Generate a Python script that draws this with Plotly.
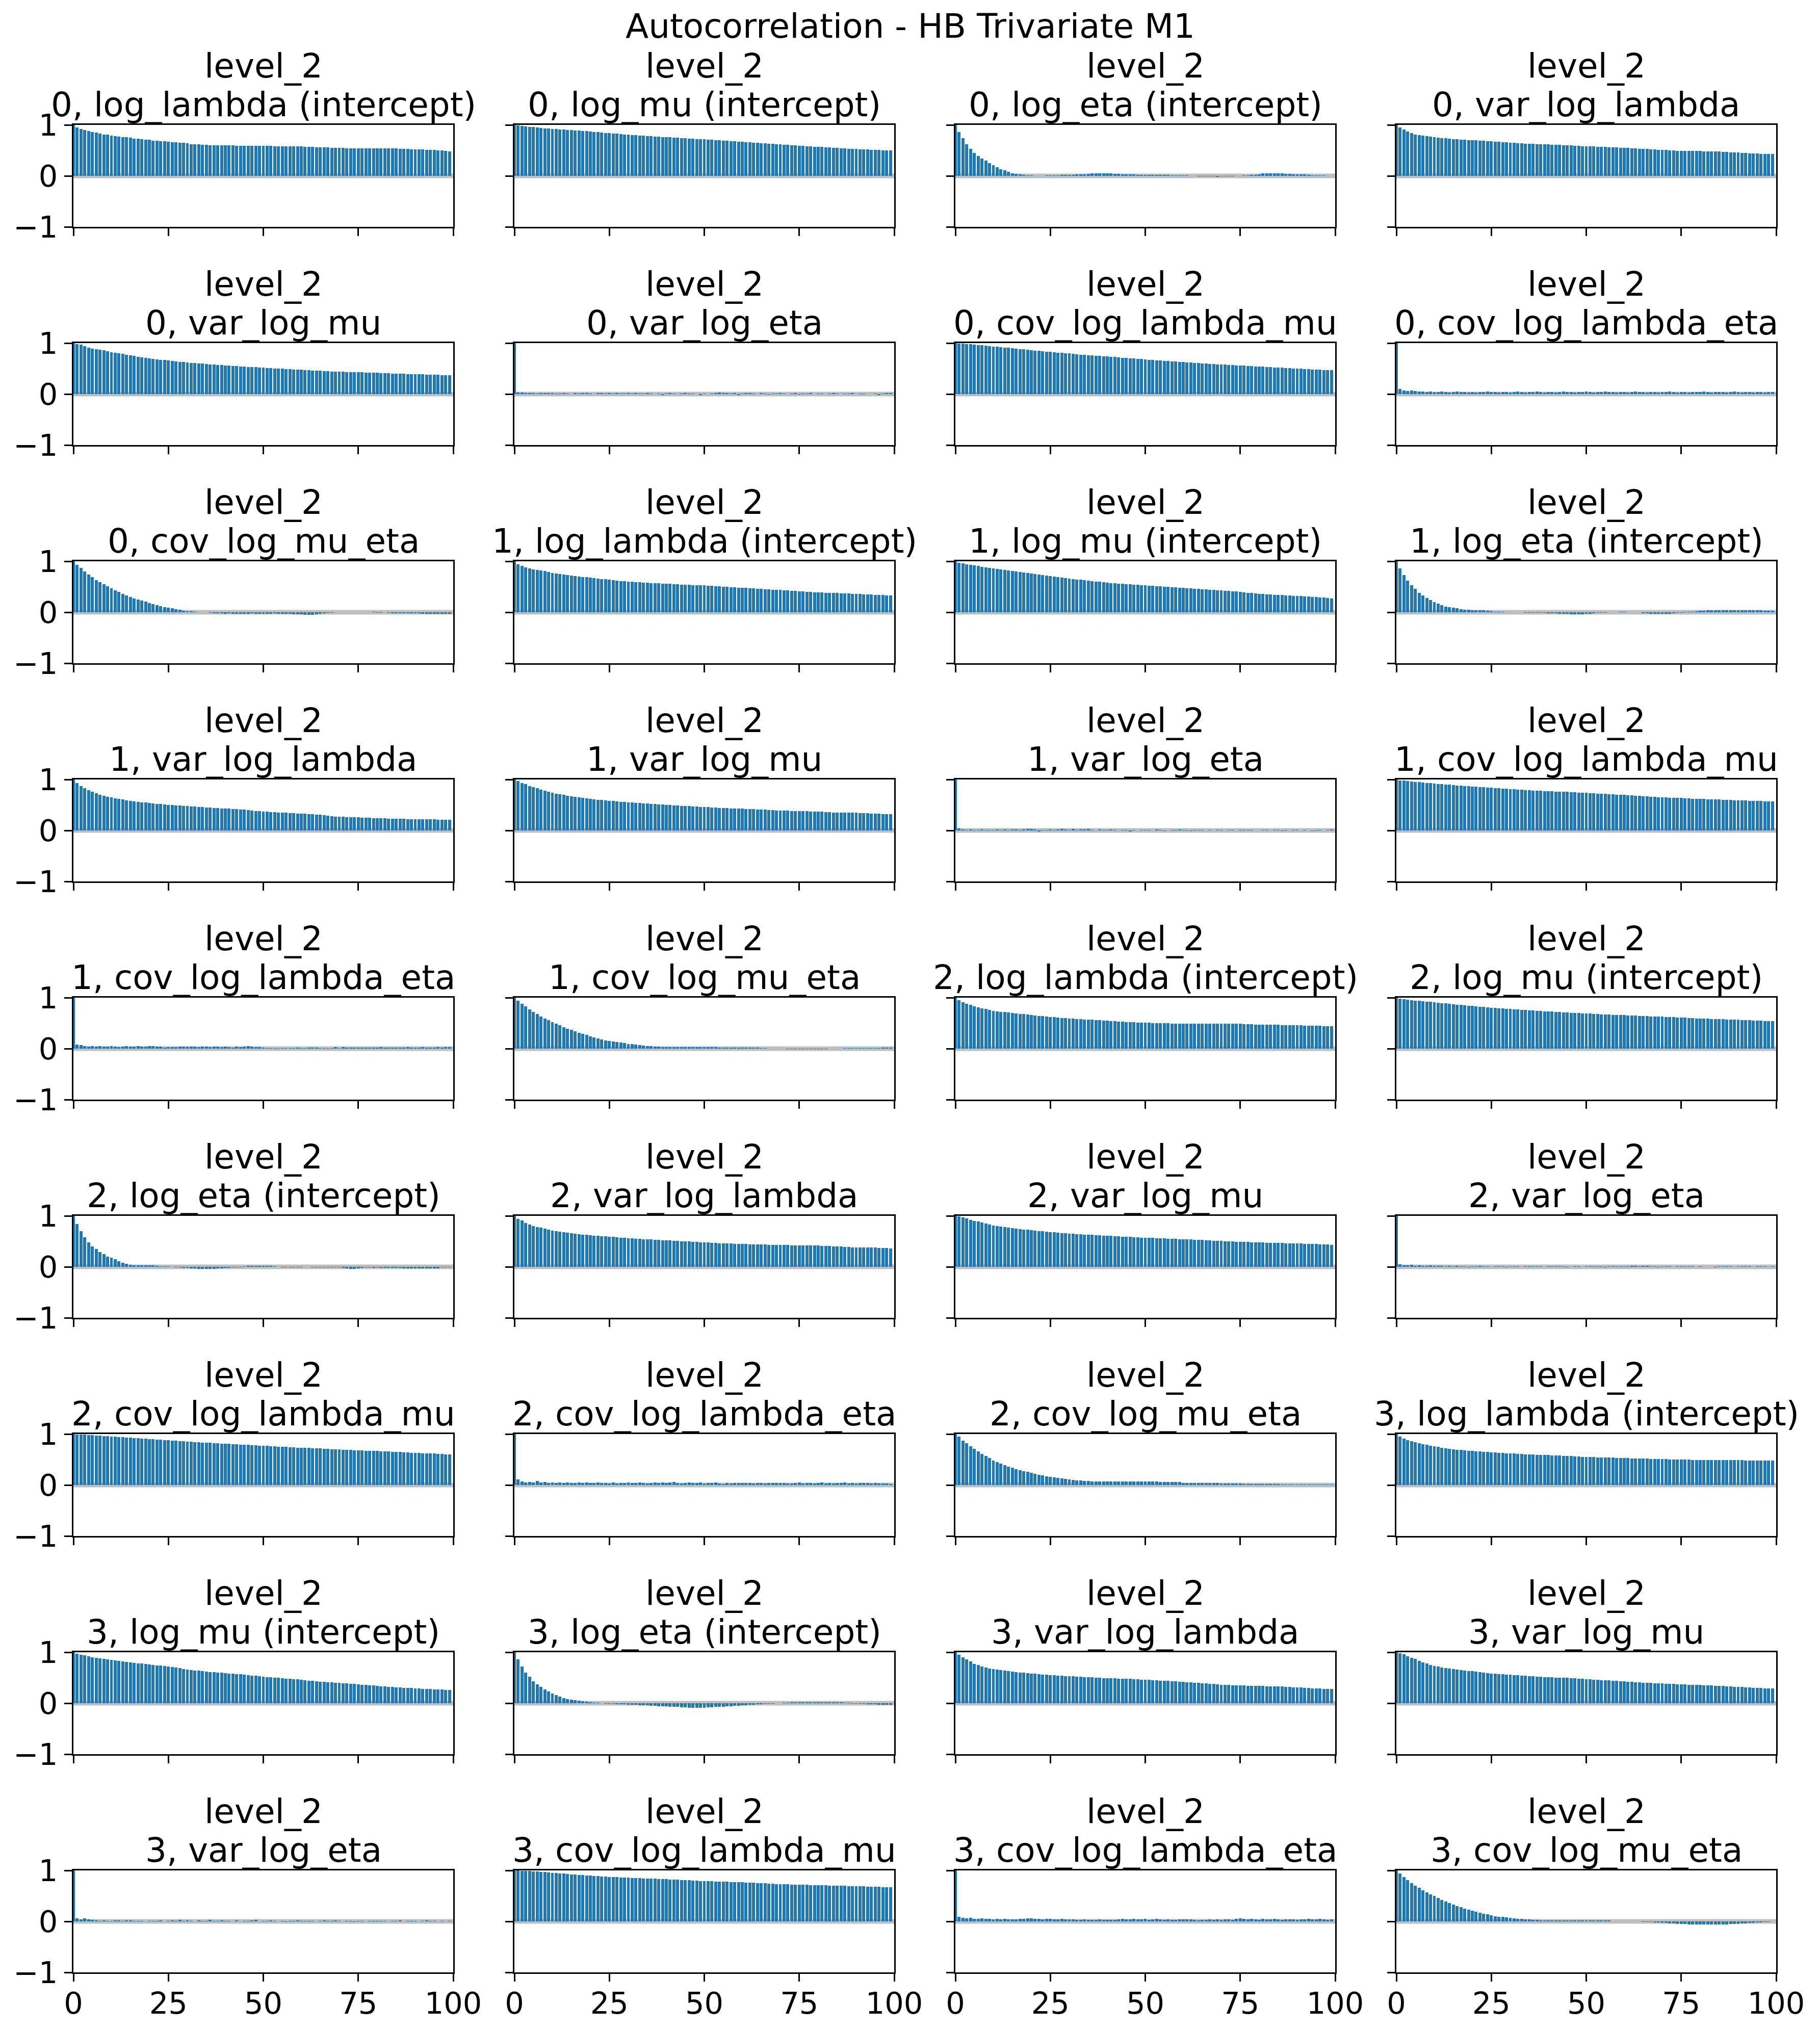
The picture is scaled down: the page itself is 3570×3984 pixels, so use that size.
import plotly.graph_objects as go

FIG_W, FIG_H = 3570, 3984
FONT = "DejaVu Sans"
SUPTITLE = "Autocorrelation - HB Trivariate M1"
GROUP = "level_2"
X_TICKS = [0, 25, 50, 75, 100]
Y_TICKS = [-1, 0, 1]
BAND = 0.044
BAR_COLOR = "#1f77b4"
BAND_COLOR = "#bfbfbf"

# ---------------- autocorrelation values, lags 0..99 ----------------
acf_0_log_lambda = [
    1.00, .95, .92, .90, .88, .86, .85, .83, .81, .81,
    .79, .78, .77, .76, .76, .75, .73, .73, .72, .71,
    .71, .69, .69, .68, .68, .67, .66, .66, .65, .65,
    .64, .62, .62, .62, .61, .61, .60, .60, .60, .60,
    .60, .60, .60, .59, .59, .59, .59, .59, .59, .59,
    .59, .59, .59, .58, .58, .58, .58, .58, .58, .58,
    .58, .57, .57, .57, .56, .56, .56, .56, .55, .55,
    .55, .55, .54, .54, .54, .54, .54, .54, .54, .54,
    .54, .54, .54, .54, .54, .54, .53, .53, .53, .52,
    .52, .52, .52, .51, .51, .51, .50, .50, .49, .48]
acf_0_log_mu = [
    1.00, .99, .98, .97, .96, .96, .95, .94, .93, .93,
    .92, .92, .91, .91, .90, .90, .89, .89, .88, .88,
    .87, .86, .86, .85, .84, .84, .83, .83, .82, .81,
    .81, .80, .80, .79, .79, .78, .78, .77, .77, .76,
    .76, .76, .75, .75, .74, .74, .73, .73, .72, .72,
    .72, .71, .71, .70, .70, .69, .69, .68, .68, .67,
    .67, .66, .66, .65, .65, .64, .64, .63, .63, .62,
    .62, .61, .61, .60, .60, .59, .59, .58, .58, .57,
    .57, .57, .56, .56, .55, .55, .54, .54, .53, .53,
    .53, .52, .52, .52, .51, .51, .51, .50, .50, .50]
acf_0_log_eta = [
    1.00, .86, .74, .62, .53, .45, .39, .34, .30, .25,
    .21, .17, .13, .11, .08, .05, .04, .03, .02, .01,
    .005, 0, 0, 0, .005, .005, .005, .005, .015, .015,
    .02, .02, .03, .03, .035, .045, .05, .05, .05, .05,
    .05, .05, .045, .045, .035, .035, .035, .035, .02, .025,
    .025, .025, .025, .025, .025, .02, .02, .01, .01, .01,
    .005, .005, 0, 0, -.005, -.005, -.005, -.005, -.005, -.015,
    -.005, -.005, -.005, -.005, 0, 0, .005, .005, .015, .025,
    .035, .05, .05, .05, .05, .05, .05, .045, .045, .035,
    .035, .03, .03, .015, .005, .005, .005, .005, 0, 0]
acf_0_var_log_lambda = [
    1.00, .95, .91, .87, .84, .81, .80, .79, .78, .77,
    .76, .75, .74, .74, .73, .72, .72, .71, .71, .70,
    .70, .70, .69, .69, .68, .68, .67, .67, .66, .66,
    .65, .65, .64, .64, .63, .63, .63, .62, .62, .62,
    .62, .61, .61, .61, .60, .60, .60, .59, .59, .58,
    .58, .58, .58, .57, .57, .57, .56, .56, .56, .55,
    .55, .55, .54, .54, .53, .53, .53, .52, .52, .51,
    .51, .51, .50, .50, .49, .49, .49, .49, .49, .49,
    .49, .48, .48, .48, .48, .48, .47, .47, .46, .46,
    .46, .45, .45, .44, .44, .44, .43, .43, .43, .43]
acf_0_var_log_mu = [
    1.00, .98, .97, .94, .91, .89, .88, .87, .86, .84,
    .82, .81, .80, .79, .77, .76, .75, .73, .72, .71,
    .70, .69, .68, .67, .67, .66, .65, .64, .63, .63,
    .62, .61, .61, .60, .60, .59, .58, .58, .57, .57,
    .56, .56, .55, .55, .54, .54, .53, .53, .53, .52,
    .52, .51, .51, .50, .50, .50, .49, .49, .48, .48,
    .48, .47, .47, .46, .46, .46, .45, .45, .44, .44,
    .44, .44, .43, .43, .43, .43, .43, .42, .42, .42,
    .42, .41, .41, .41, .40, .40, .40, .40, .39, .39,
    .39, .39, .39, .38, .38, .38, .38, .37, .37, .37]
acf_0_var_log_eta = [
    1.00, .03, .03, .02, .02, .02, .01, .02, .02, .02,
    .02, .01, .01, .02, .01, 0, .02, .01, .02, .02,
    .01, 0, .02, .02, .01, .02, .01, .02, .01, .01,
    .02, .01, .02, .01, .01, .02, .01, 0, .01, -.02,
    .01, .02, .01, 0, .01, .02, .01, .01, 0, -.02,
    .01, 0, .01, .02, .03, .02, .02, .01, .02, -.02,
    .01, .02, .02, .01, 0, .02, .01, -.01, .01, .01,
    .02, .01, 0, .01, .02, -.01, .01, .01, .02, 0,
    .01, .01, 0, .01, .02, .01, 0, .01, .01, .02,
    0, .01, .01, 0, 0, .01, -.02, .01, .02, .02]
acf_0_cov_log_lambda_mu = [
    1.00, .99, .99, .98, .98, .97, .96, .96, .95, .94,
    .93, .93, .92, .91, .91, .90, .89, .88, .88, .87,
    .86, .85, .85, .84, .83, .83, .82, .81, .81, .80,
    .80, .79, .78, .77, .77, .76, .76, .75, .75, .74,
    .74, .73, .73, .72, .71, .71, .70, .70, .69, .69,
    .68, .67, .67, .66, .66, .65, .65, .64, .64, .63,
    .63, .62, .62, .61, .61, .60, .60, .59, .59, .58,
    .58, .58, .57, .57, .56, .56, .56, .55, .55, .54,
    .54, .54, .53, .53, .52, .52, .52, .51, .51, .50,
    .50, .50, .49, .49, .48, .48, .48, .47, .47, .47]
acf_0_cov_log_lambda_eta = [
    1.00, .10, .07, .06, .07, .06, .05, .05, .04, .05,
    .04, .04, .05, .04, .03, .04, .05, .04, .04, .03,
    .04, .03, .04, .04, .05, .04, .04, .03, .04, .04,
    .03, .04, .05, .04, .03, .04, .04, .05, .04, .03,
    .04, .04, .03, .04, .05, .04, .04, .03, .04, .04,
    .05, .04, .03, .04, .04, .05, .04, .04, .03, .04,
    .04, .03, .04, .05, .04, .04, .03, .04, .04, .03,
    .04, .04, .05, .04, .03, .04, .04, .03, .04, .04,
    .04, .05, .04, .03, .04, .04, .04, .03, .04, .05,
    .04, .03, .04, .04, .03, .04, .04, .03, .04, .04]
acf_0_cov_log_mu_eta = [
    1.00, .93, .87, .80, .74, .69, .63, .59, .55, .51,
    .47, .43, .40, .36, .33, .30, .27, .25, .23, .21,
    .18, .16, .14, .12, .10, .09, .08, .06, .05, .03,
    .02, .02, .01, 0, 0, 0, -.01, -.02, -.02, -.02,
    -.03, -.02, -.03, -.03, -.03, -.03, -.03, -.02, -.03, -.03,
    -.03, -.03, -.03, -.02, -.03, -.03, -.03, -.03, -.04, -.04,
    -.04, -.045, -.045, -.045, -.04, -.03, -.02, -.01, -.005, 0,
    0, 0, 0, 0, 0, 0, 0, 0, 0, .005,
    -.005, -.005, 0, -.01, -.015, -.015, -.015, -.015, -.015, -.02,
    -.02, -.02, -.025, -.025, -.025, -.025, -.025, -.025, -.025, -.025]

acf_1_log_lambda = [
    1.00, .94, .91, .88, .86, .84, .83, .82, .81, .79,
    .77, .76, .75, .74, .73, .72, .71, .70, .69, .69,
    .68, .67, .66, .65, .65, .64, .63, .62, .61, .61,
    .60, .60, .59, .59, .58, .58, .57, .57, .57, .56,
    .56, .56, .55, .55, .54, .54, .54, .53, .53, .53,
    .53, .52, .52, .51, .51, .50, .50, .49, .49, .48,
    .48, .48, .47, .47, .46, .46, .45, .45, .44, .44,
    .44, .43, .43, .42, .42, .41, .41, .40, .40, .39,
    .39, .39, .38, .38, .38, .38, .37, .37, .37, .36,
    .36, .36, .35, .35, .35, .34, .34, .34, .33, .33]
acf_1_log_mu = [
    1.00, .97, .96, .94, .93, .92, .91, .89, .88, .87,
    .86, .85, .84, .83, .82, .81, .80, .79, .78, .77,
    .76, .75, .74, .73, .72, .71, .70, .69, .68, .67,
    .66, .65, .64, .64, .63, .62, .61, .60, .60, .59,
    .58, .57, .57, .56, .56, .55, .55, .54, .54, .53,
    .53, .52, .52, .51, .51, .50, .50, .49, .49, .48,
    .48, .47, .47, .46, .46, .45, .45, .44, .44, .43,
    .43, .42, .42, .41, .41, .40, .39, .38, .38, .37,
    .36, .36, .35, .35, .34, .34, .34, .33, .33, .32,
    .32, .32, .31, .31, .30, .30, .29, .29, .28, .27]
acf_1_log_eta = [
    1.00, .86, .73, .62, .53, .46, .38, .33, .28, .24,
    .20, .17, .14, .11, .10, .09, .08, .06, .05, .05,
    .04, .04, .04, .04, .03, .02, .01, .01, .005, 0,
    0, 0, 0, 0, -.008, -.01, -.01, -.01, -.01, -.01,
    -.015, -.02, -.02, -.025, -.03, -.03, -.035, -.037, -.037, -.035,
    -.03, -.025, -.02, -.01, -.01, -.01, 0, 0, 0, .01,
    .01, 0, 0, 0, 0, -.015, -.02, -.025, -.03, -.03,
    -.03, -.03, -.025, -.02, -.01, -.005, .005, .01, .01, .02,
    .03, .035, .04, .04, .04, .04, .04, .04, .04, .04,
    .04, .04, .04, .04, .04, .04, .04, .035, .035, .03]
acf_1_var_log_lambda = [
    1.00, .93, .87, .83, .79, .76, .73, .70, .68, .66,
    .65, .63, .62, .61, .59, .58, .57, .56, .55, .55,
    .54, .53, .52, .52, .51, .50, .50, .49, .49, .48,
    .48, .47, .47, .46, .46, .45, .45, .44, .44, .43,
    .43, .43, .42, .42, .41, .41, .40, .39, .38, .38,
    .37, .37, .36, .36, .35, .35, .35, .34, .34, .33,
    .33, .33, .32, .32, .31, .31, .30, .29, .28, .27,
    .27, .27, .26, .26, .26, .26, .25, .25, .25, .24,
    .24, .24, .24, .23, .23, .23, .23, .23, .22, .22,
    .22, .22, .22, .22, .22, .22, .21, .21, .21, .21]
acf_1_var_log_mu = [
    1.00, .97, .93, .91, .87, .85, .83, .80, .78, .76,
    .74, .72, .71, .70, .68, .67, .66, .65, .64, .63,
    .62, .61, .60, .60, .59, .58, .58, .57, .56, .56,
    .55, .55, .54, .54, .53, .53, .52, .52, .51, .51,
    .50, .50, .49, .49, .48, .48, .48, .47, .47, .46,
    .46, .46, .45, .45, .44, .44, .44, .43, .43, .43,
    .43, .42, .42, .42, .41, .41, .41, .40, .40, .39,
    .39, .39, .39, .38, .38, .38, .38, .38, .37, .37,
    .37, .37, .36, .36, .35, .35, .35, .35, .35, .35,
    .35, .34, .34, .34, .33, .33, .33, .32, .32, .32]
acf_1_var_log_eta = [
    1.00, .04, .02, .01, .02, .01, .01, .02, .01, .01,
    .01, .02, .01, .02, .01, .02, .02, .01, .02, .03,
    .03, .02, -.02, .01, .01, .02, .01, .02, .03, .02,
    .01, .03, .01, .02, .02, .03, .01, 0, .02, .01,
    .01, .02, .01, 0, .01, .01, -.02, .01, 0, .01,
    .01, .01, 0, .02, .01, -.01, 0, .01, .01, .02,
    .01, .01, -.01, .01, .01, .01, 0, .01, 0, .01,
    .01, 0, .01, .01, 0, .01, .01, .01, .01, 0,
    0, .01, .01, 0, .01, .01, -.01, .01, 0, .01,
    .01, 0, .01, 0, -.01, .01, .01, 0, .01, .02]
acf_1_cov_log_lambda_mu = [
    1.00, .98, .98, .97, .96, .95, .95, .94, .93, .93,
    .92, .91, .91, .90, .90, .89, .88, .88, .87, .87,
    .86, .86, .85, .85, .84, .84, .83, .83, .82, .82,
    .81, .81, .80, .80, .79, .79, .78, .78, .78, .77,
    .77, .77, .76, .76, .76, .76, .75, .75, .74, .74,
    .74, .73, .73, .72, .72, .72, .71, .71, .70, .70,
    .70, .69, .69, .68, .68, .67, .67, .66, .66, .65,
    .65, .65, .64, .64, .64, .64, .63, .63, .62, .62,
    .62, .62, .61, .61, .61, .61, .60, .60, .60, .59,
    .59, .59, .59, .58, .58, .58, .58, .57, .57, .57]
acf_1_cov_log_lambda_eta = [
    1.00, .08, .07, .05, .04, .05, .04, .05, .04, .04,
    .05, .04, .03, .04, .05, .04, .04, .05, .04, .04,
    .05, .05, .04, .04, .02, .03, .03, .03, .04, .04,
    .04, .04, .04, .03, .04, .04, .03, .04, .04, .03,
    .04, .03, .02, .04, .03, .04, .05, .04, .03, .03,
    .02, .01, .01, .01, -.005, .01, .01, .01, .01, .02,
    .01, .01, .02, .02, .02, .01, .01, -.01, .01, .03,
    .01, .03, .02, .02, .02, .02, .02, .02, .02, .02,
    .02, .03, .02, .02, .02, .02, .02, .02, .03, .02,
    .02, .02, .03, .02, .02, .02, .03, .02, .03, .03]
acf_1_cov_log_mu_eta = [
    1.00, .94, .88, .83, .77, .72, .68, .63, .59, .56,
    .52, .49, .46, .42, .39, .37, .34, .31, .29, .27,
    .24, .22, .20, .18, .16, .15, .14, .13, .12, .11,
    .09, .09, .08, .07, .06, .05, .05, .04, .04, .035,
    .035, .035, .035, .035, .035, .035, .035, .035, .035, .035,
    .035, .035, .035, .03, .025, .02, .02, .02, .02, .02,
    .02, .02, .015, .015, .015, .01, .005, 0, 0, 0,
    0, 0, -.005, -.005, -.005, -.005, -.005, -.005, -.005, -.005,
    -.005, -.005, -.005, 0, 0, 0, 0, .01, .01, .01,
    .01, .01, .01, .01, .01, .01, .01, .015, .02, .02]

acf_2_log_lambda = [
    1.00, .95, .91, .88, .86, .83, .81, .79, .78, .76,
    .74, .73, .72, .72, .71, .70, .69, .68, .68, .67,
    .66, .65, .64, .64, .63, .62, .62, .61, .60, .60,
    .59, .59, .58, .58, .57, .57, .57, .56, .56, .55,
    .55, .54, .54, .53, .53, .52, .52, .52, .51, .51,
    .51, .51, .50, .50, .50, .50, .50, .49, .49, .49,
    .49, .49, .49, .49, .49, .49, .49, .49, .49, .49,
    .49, .49, .49, .49, .49, .49, .48, .48, .48, .47,
    .47, .47, .47, .47, .47, .47, .46, .46, .46, .46,
    .46, .46, .45, .45, .45, .45, .45, .44, .44, .44]
acf_2_log_mu = [
    1.00, .98, .97, .96, .95, .94, .94, .93, .92, .92,
    .91, .90, .89, .89, .88, .87, .86, .86, .85, .84,
    .84, .83, .82, .82, .81, .80, .80, .79, .79, .78,
    .78, .77, .77, .76, .76, .75, .75, .74, .74, .73,
    .73, .73, .72, .72, .71, .71, .70, .70, .70, .69,
    .69, .69, .68, .68, .67, .67, .67, .66, .66, .66,
    .66, .65, .65, .65, .64, .64, .64, .63, .63, .63,
    .63, .62, .62, .62, .61, .61, .61, .60, .60, .59,
    .59, .59, .59, .58, .58, .58, .58, .57, .57, .57,
    .57, .56, .56, .56, .55, .55, .55, .54, .54, .54]
acf_2_log_eta = [
    1.00, .84, .70, .58, .48, .40, .35, .29, .25, .20,
    .18, .15, .11, .08, .06, .04, .03, .03, .03, .03,
    .03, .03, .02, .01, .01, .01, 0, -.01, -.01, -.02,
    -.02, -.03, -.03, -.035, -.035, -.035, -.035, -.035, -.03, -.03,
    -.02, -.02, -.01, -.01, -.005, .01, .015, .02, .025, .02,
    .025, .02, .015, .01, 0, -.005, -.005, -.005, -.005, -.005,
    -.005, 0, 0, -.01, -.01, -.01, -.01, -.01, -.01, -.01,
    -.01, -.02, -.03, -.035, -.035, -.03, -.02, -.01, -.01, -.015,
    -.01, -.015, -.02, -.02, -.015, -.02, -.02, -.025, -.03, -.03,
    -.03, -.03, -.03, -.03, -.03, -.03, -.03, -.01, -.01, -.01]
acf_2_var_log_lambda = [
    1.00, .94, .91, .86, .83, .80, .78, .77, .75, .73,
    .71, .70, .69, .68, .67, .66, .65, .64, .63, .63,
    .62, .61, .61, .60, .60, .59, .59, .58, .57, .57,
    .56, .56, .55, .55, .54, .54, .54, .53, .53, .52,
    .52, .52, .51, .51, .50, .50, .50, .49, .49, .48,
    .48, .48, .47, .47, .46, .46, .46, .46, .45, .45,
    .45, .45, .44, .44, .44, .44, .44, .43, .43, .43,
    .43, .43, .43, .42, .42, .42, .42, .42, .42, .42,
    .42, .41, .41, .41, .40, .40, .40, .39, .39, .38,
    .38, .38, .38, .38, .38, .38, .37, .37, .37, .36]
acf_2_var_log_mu = [
    1.00, .99, .97, .95, .92, .90, .89, .87, .85, .83,
    .81, .80, .79, .78, .77, .76, .75, .74, .73, .73,
    .72, .71, .70, .70, .69, .68, .68, .67, .66, .66,
    .65, .65, .64, .64, .63, .63, .63, .62, .62, .61,
    .61, .61, .60, .60, .59, .59, .59, .58, .58, .57,
    .57, .57, .57, .56, .56, .56, .55, .55, .55, .54,
    .54, .54, .54, .53, .53, .53, .52, .52, .51, .51,
    .51, .50, .50, .50, .49, .49, .49, .49, .48, .48,
    .48, .48, .47, .47, .47, .47, .47, .46, .46, .46,
    .46, .46, .45, .45, .45, .45, .44, .44, .44, .43]
acf_2_var_log_eta = [
    1.00, .05, .03, .03, .04, .02, .03, .02, .02, .03,
    .02, .02, .02, .01, .02, .01, .02, .01, .01, -.01,
    .01, .01, .02, .01, .01, 0, .01, .01, .01, -.01,
    .01, .01, .01, 0, .01, .01, .01, .01, .01, 0,
    .01, .01, .01, .01, .01, -.01, 0, .01, .01, 0,
    .01, .01, .01, .01, .01, -.01, .01, .01, .01, .01,
    .01, .01, .02, .02, .01, .02, .02, .01, .01, -.01,
    .01, .01, .01, 0, .01, .01, .01, .01, .01, 0,
    .01, 0, 0, 0, -.005, .01, .01, .01, .01, 0,
    .01, .01, .01, .01, 0, .01, .01, .01, 0, .01]
acf_2_cov_log_lambda_mu = [
    1.00, .99, .99, .99, .98, .98, .97, .97, .96, .96,
    .95, .95, .94, .94, .93, .93, .92, .92, .91, .91,
    .90, .90, .89, .89, .88, .88, .87, .87, .86, .86,
    .85, .85, .84, .84, .83, .83, .83, .82, .82, .81,
    .81, .81, .80, .80, .79, .79, .79, .78, .78, .77,
    .77, .77, .76, .76, .75, .75, .75, .74, .74, .73,
    .73, .73, .73, .72, .72, .72, .71, .71, .70, .70,
    .70, .69, .69, .69, .68, .68, .68, .67, .67, .67,
    .67, .66, .66, .66, .65, .65, .65, .64, .64, .63,
    .63, .63, .62, .62, .62, .62, .61, .61, .60, .60]
acf_2_cov_log_lambda_eta = [
    1.00, .11, .07, .05, .06, .05, .08, .05, .06, .04,
    .05, .04, .05, .04, .05, .04, .04, .05, .04, .05,
    .04, .04, .05, .04, .04, .03, .05, .03, .04, .04,
    .05, .04, .04, .05, .04, .03, .04, .05, .04, .05,
    .04, .05, .06, .04, .03, .04, .05, .04, .04, .05,
    .03, .04, .04, .05, .03, .02, .04, .03, .04, .04,
    .04, .04, .04, .03, .04, .04, .03, .04, .04, .04,
    .04, .04, .03, .03, .04, .05, .03, .04, .04, .03,
    .04, .05, .03, .04, .03, .04, .04, .05, .03, .04,
    .03, .04, .04, .04, .03, .04, .03, .03, .03, .02]
acf_2_cov_log_mu_eta = [
    1.00, .95, .87, .82, .76, .71, .66, .61, .57, .53,
    .48, .45, .42, .39, .36, .34, .31, .29, .27, .26,
    .24, .22, .20, .19, .17, .16, .15, .14, .13, .12,
    .11, .10, .09, .09, .08, .08, .07, .07, .07, .07,
    .07, .07, .07, .07, .07, .07, .07, .07, .07, .07,
    .07, .07, .07, .07, .06, .06, .06, .06, .06, .06,
    .045, .045, .045, .045, .045, .045, .045, .045, .045, .04,
    .035, .035, .035, .035, .035, .035, .02, .02, .02, .02,
    .02, .02, .02, .02, .02, .015, .01, .01, .01, .01,
    .01, .01, .01, .01, .01, .01, .01, .01, .01, .01]

acf_3_log_lambda = [
    1.00, .95, .91, .88, .86, .84, .82, .80, .79, .77,
    .76, .75, .73, .72, .71, .70, .69, .69, .68, .67,
    .67, .66, .66, .65, .65, .64, .64, .63, .63, .62,
    .62, .62, .61, .61, .60, .60, .60, .59, .59, .59,
    .59, .58, .58, .58, .57, .57, .57, .56, .56, .55,
    .55, .55, .55, .54, .54, .54, .54, .54, .53, .53,
    .53, .53, .52, .52, .52, .52, .52, .51, .51, .51,
    .51, .51, .50, .50, .50, .50, .50, .50, .49, .49,
    .49, .49, .49, .49, .49, .49, .49, .49, .49, .49,
    .49, .49, .48, .48, .48, .48, .48, .48, .48, .48]
acf_3_log_mu = [
    1.00, .97, .95, .94, .92, .90, .89, .88, .87, .86,
    .85, .84, .83, .82, .81, .80, .79, .78, .78, .77,
    .76, .75, .74, .74, .73, .72, .71, .70, .69, .67,
    .66, .65, .64, .64, .63, .62, .61, .61, .60, .60,
    .59, .58, .58, .57, .57, .56, .55, .54, .54, .53,
    .52, .51, .51, .50, .50, .49, .48, .48, .47, .47,
    .46, .45, .44, .44, .43, .42, .42, .41, .41, .40,
    .40, .39, .39, .38, .38, .37, .36, .36, .35, .35,
    .34, .33, .33, .32, .32, .31, .31, .30, .30, .30,
    .29, .29, .28, .28, .28, .27, .27, .27, .26, .26]
acf_3_log_eta = [
    1.00, .86, .72, .60, .52, .43, .37, .32, .27, .23,
    .19, .16, .13, .10, .08, .07, .06, .05, .04, .03,
    .02, .01, .005, 0, -.005, -.01, -.01, -.02, -.02, -.02,
    -.03, -.03, -.03, -.04, -.04, -.04, -.05, -.05, -.06, -.06,
    -.06, -.07, -.07, -.07, -.08, -.08, -.09, -.09, -.09, -.09,
    -.09, -.08, -.08, -.07, -.07, -.07, -.06, -.06, -.05, -.05,
    -.04, -.04, -.03, -.03, -.02, -.02, -.01, -.01, -.005, 0,
    0, .005, .01, .015, .02, .02, .02, .02, .02, .02,
    .02, .02, .02, .02, .02, .02, .015, .01, .005, -.005,
    -.01, -.01, -.01, -.015, -.02, -.02, -.025, -.03, -.03, -.03]
acf_3_var_log_lambda = [
    1.00, .95, .90, .86, .82, .77, .75, .72, .70, .68,
    .67, .66, .65, .64, .63, .62, .61, .60, .60, .59,
    .58, .58, .57, .56, .56, .55, .55, .54, .54, .53,
    .53, .53, .52, .52, .51, .51, .51, .50, .50, .49,
    .49, .49, .49, .48, .48, .48, .48, .47, .47, .46,
    .46, .46, .45, .45, .44, .44, .44, .43, .43, .42,
    .42, .41, .41, .40, .40, .39, .39, .38, .38, .37,
    .36, .36, .36, .35, .35, .35, .35, .34, .34, .34,
    .34, .34, .33, .33, .33, .33, .33, .32, .32, .31,
    .31, .31, .30, .30, .29, .29, .29, .28, .28, .28]
acf_3_var_log_mu = [
    1.00, .98, .96, .92, .89, .87, .83, .80, .78, .75,
    .73, .72, .70, .69, .68, .67, .66, .65, .64, .63,
    .63, .62, .61, .60, .59, .58, .58, .57, .57, .56,
    .56, .55, .55, .54, .54, .53, .53, .52, .52, .51,
    .51, .51, .50, .50, .50, .50, .49, .49, .48, .48,
    .47, .47, .46, .46, .45, .45, .45, .44, .44, .43,
    .43, .42, .42, .41, .41, .40, .40, .40, .39, .39,
    .39, .38, .38, .38, .37, .37, .37, .36, .36, .36,
    .36, .35, .35, .35, .34, .34, .34, .33, .33, .32,
    .32, .32, .31, .31, .30, .30, .30, .29, .29, .29]
acf_3_var_log_eta = [
    1.00, .06, .04, .06, .04, .03, .02, .01, .02, .01,
    .01, .02, .02, .01, .02, .02, .01, .01, .01, 0,
    .01, .01, .01, .02, 0, .01, .02, .01, .03, .01,
    .02, .01, 0, .02, .01, .01, .03, .01, .01, .02,
    .01, .01, 0, .02, 0, .01, .01, .02, .03, 0,
    .01, .01, .02, .01, 0, .01, -.01, .01, .01, .02,
    .01, .01, .01, .01, 0, .01, .02, .01, .01, .02,
    .01, 0, .01, .01, -.01, .01, .01, 0, .01, .01,
    .01, .01, .01, 0, .01, .01, .02, 0, .01, .01,
    .01, 0, .01, .02, .01, .01, 0, .01, 0, .01]
acf_3_cov_log_lambda_mu = [
    1.00, 1.00, .99, .99, .99, .98, .98, .97, .97, .96,
    .95, .95, .94, .94, .93, .92, .92, .91, .91, .90,
    .90, .89, .89, .88, .88, .87, .87, .87, .86, .86,
    .86, .85, .85, .85, .84, .84, .84, .84, .83, .83,
    .83, .82, .82, .82, .81, .81, .81, .80, .80, .79,
    .79, .79, .79, .78, .78, .78, .78, .77, .77, .77,
    .77, .76, .76, .76, .75, .75, .75, .74, .74, .73,
    .73, .73, .73, .72, .72, .72, .72, .72, .71, .71,
    .71, .71, .71, .70, .70, .70, .70, .70, .69, .69,
    .69, .69, .69, .68, .68, .68, .68, .67, .67, .67]
acf_3_cov_log_lambda_eta = [
    1.00, .09, .07, .06, .07, .05, .05, .06, .05, .05,
    .04, .05, .04, .05, .04, .04, .04, .05, .05, .06,
    .06, .05, .05, .04, .05, .05, .04, .04, .05, .04,
    .04, .04, .03, .03, .04, .03, .03, .03, .04, .03,
    .03, .03, .03, .04, .05, .04, .04, .05, .04, .04,
    .05, .03, .04, .05, .04, .03, .04, .03, .03, .04,
    .04, .04, .04, .03, .02, .03, .03, .04, .03, .04,
    .03, .04, .04, .03, .05, .06, .05, .04, .05, .04,
    .03, .05, .04, .04, .05, .04, .03, .04, .04, .04,
    .03, .04, .04, .05, .04, .04, .05, .04, .03, .04]
acf_3_cov_log_mu_eta = [
    1.00, .94, .87, .81, .75, .70, .66, .61, .57, .53,
    .50, .46, .42, .39, .36, .33, .30, .28, .25, .23,
    .21, .19, .17, .15, .14, .12, .10, .09, .09, .08,
    .07, .06, .05, .05, .04, .04, .035, .03, .025, .025,
    .025, .02, .02, .02, .02, .02, .02, .02, .02, .02,
    .02, .02, .02, .02, .02, .02, .02, 0, 0, 0,
    0, 0, 0, 0, 0, -.005, -.01, -.01, -.015, -.02,
    -.025, -.03, -.035, -.04, -.045, -.05, -.05, -.055, -.06, -.06,
    -.06, -.06, -.06, -.06, -.06, -.06, -.06, -.055, -.05, -.05,
    -.045, -.04, -.035, -.03, -.025, -.02, -.015, -.01, -.01, 0]

PANELS = [
    ("0, log_lambda (intercept)", acf_0_log_lambda),
    ("0, log_mu (intercept)", acf_0_log_mu),
    ("0, log_eta (intercept)", acf_0_log_eta),
    ("0, var_log_lambda", acf_0_var_log_lambda),
    ("0, var_log_mu", acf_0_var_log_mu),
    ("0, var_log_eta", acf_0_var_log_eta),
    ("0, cov_log_lambda_mu", acf_0_cov_log_lambda_mu),
    ("0, cov_log_lambda_eta", acf_0_cov_log_lambda_eta),
    ("0, cov_log_mu_eta", acf_0_cov_log_mu_eta),
    ("1, log_lambda (intercept)", acf_1_log_lambda),
    ("1, log_mu (intercept)", acf_1_log_mu),
    ("1, log_eta (intercept)", acf_1_log_eta),
    ("1, var_log_lambda", acf_1_var_log_lambda),
    ("1, var_log_mu", acf_1_var_log_mu),
    ("1, var_log_eta", acf_1_var_log_eta),
    ("1, cov_log_lambda_mu", acf_1_cov_log_lambda_mu),
    ("1, cov_log_lambda_eta", acf_1_cov_log_lambda_eta),
    ("1, cov_log_mu_eta", acf_1_cov_log_mu_eta),
    ("2, log_lambda (intercept)", acf_2_log_lambda),
    ("2, log_mu (intercept)", acf_2_log_mu),
    ("2, log_eta (intercept)", acf_2_log_eta),
    ("2, var_log_lambda", acf_2_var_log_lambda),
    ("2, var_log_mu", acf_2_var_log_mu),
    ("2, var_log_eta", acf_2_var_log_eta),
    ("2, cov_log_lambda_mu", acf_2_cov_log_lambda_mu),
    ("2, cov_log_lambda_eta", acf_2_cov_log_lambda_eta),
    ("2, cov_log_mu_eta", acf_2_cov_log_mu_eta),
    ("3, log_lambda (intercept)", acf_3_log_lambda),
    ("3, log_mu (intercept)", acf_3_log_mu),
    ("3, log_eta (intercept)", acf_3_log_eta),
    ("3, var_log_lambda", acf_3_var_log_lambda),
    ("3, var_log_mu", acf_3_var_log_mu),
    ("3, var_log_eta", acf_3_var_log_eta),
    ("3, cov_log_lambda_mu", acf_3_cov_log_lambda_mu),
    ("3, cov_log_lambda_eta", acf_3_cov_log_lambda_eta),
    ("3, cov_log_mu_eta", acf_3_cov_log_mu_eta),
]

# ---------------- layout geometry (pixels) ----------------
NCOLS, NROWS = 4, 9
COL_LEFT0, COL_PITCH, AX_W = 144, 865, 745
ROW_TOP0, ROW_PITCH, AX_H = 245, 428, 200
TITLE_SIZE, TICK_SIZE, SUP_SIZE = 66, 59, 66
LINE_GAP = 76
X_STANDOFF, Y_STANDOFF = -8, 1

fig = go.Figure()
annotations = []
layout_axes = {}

for i, (name, vals) in enumerate(PANELS):
    r, c = divmod(i, NCOLS)
    n = i + 1
    xa = "x" if n == 1 else f"x{n}"
    ya = "y" if n == 1 else f"y{n}"
    left = COL_LEFT0 + c * COL_PITCH
    top = ROW_TOP0 + r * ROW_PITCH
    xdom = [left / FIG_W, (left + AX_W) / FIG_W]
    ydom = [1 - (top + AX_H) / FIG_H, 1 - top / FIG_H]

    fig.add_trace(go.Bar(
        x=list(range(len(vals))), y=vals, width=0.8,
        marker=dict(color=BAR_COLOR, line=dict(width=0)),
        xaxis=xa, yaxis=ya, showlegend=False, hoverinfo="skip"))
    fig.add_shape(type="rect", xref=xa, yref=ya, x0=X_TICKS[0], x1=X_TICKS[-1],
                  y0=-BAND, y1=BAND, fillcolor=BAND_COLOR,
                  line=dict(width=0), layer="below")

    common = dict(showline=True, linecolor="black", linewidth=3, mirror=True,
                  ticks="outside", ticklen=15, tickwidth=3, tickcolor="black",
                  showgrid=False, zeroline=False, automargin=False,
                  tickfont=dict(family=FONT, size=TICK_SIZE, color="black"))
    layout_axes["xaxis" if n == 1 else f"xaxis{n}"] = dict(
        domain=xdom, anchor=ya, range=[X_TICKS[0], X_TICKS[-1]],
        tickmode="array", tickvals=X_TICKS, ticklabelstandoff=X_STANDOFF,
        showticklabels=(r == NROWS - 1), **common)
    layout_axes["yaxis" if n == 1 else f"yaxis{n}"] = dict(
        domain=ydom, anchor=xa, range=[Y_TICKS[0], Y_TICKS[-1]],
        tickmode="array", tickvals=Y_TICKS, ticklabelstandoff=Y_STANDOFF,
        showticklabels=(c == 0), **common)

    cx = (left + AX_W / 2) / FIG_W
    for text, bottom_px in ((name, top), (GROUP, top - LINE_GAP)):
        annotations.append(dict(
            text=text, x=cx, y=1 - bottom_px / FIG_H, xref="paper", yref="paper",
            xanchor="center", yanchor="bottom", showarrow=False, borderpad=0,
            font=dict(family=FONT, size=TITLE_SIZE, color="black")))

annotations.append(dict(
    text=SUPTITLE, x=0.5, y=1 - 51 / FIG_H, xref="paper", yref="paper",
    xanchor="center", yanchor="middle", showarrow=False,
    font=dict(family=FONT, size=SUP_SIZE, color="black")))

fig.update_layout(
    width=FIG_W, height=FIG_H,
    margin=dict(l=0, r=0, t=0, b=0, pad=0, autoexpand=False),
    paper_bgcolor="white", plot_bgcolor="white",
    font=dict(family=FONT, color="black"),
    bargap=0, annotations=annotations, **layout_axes)

fig.write_html("out.html")
